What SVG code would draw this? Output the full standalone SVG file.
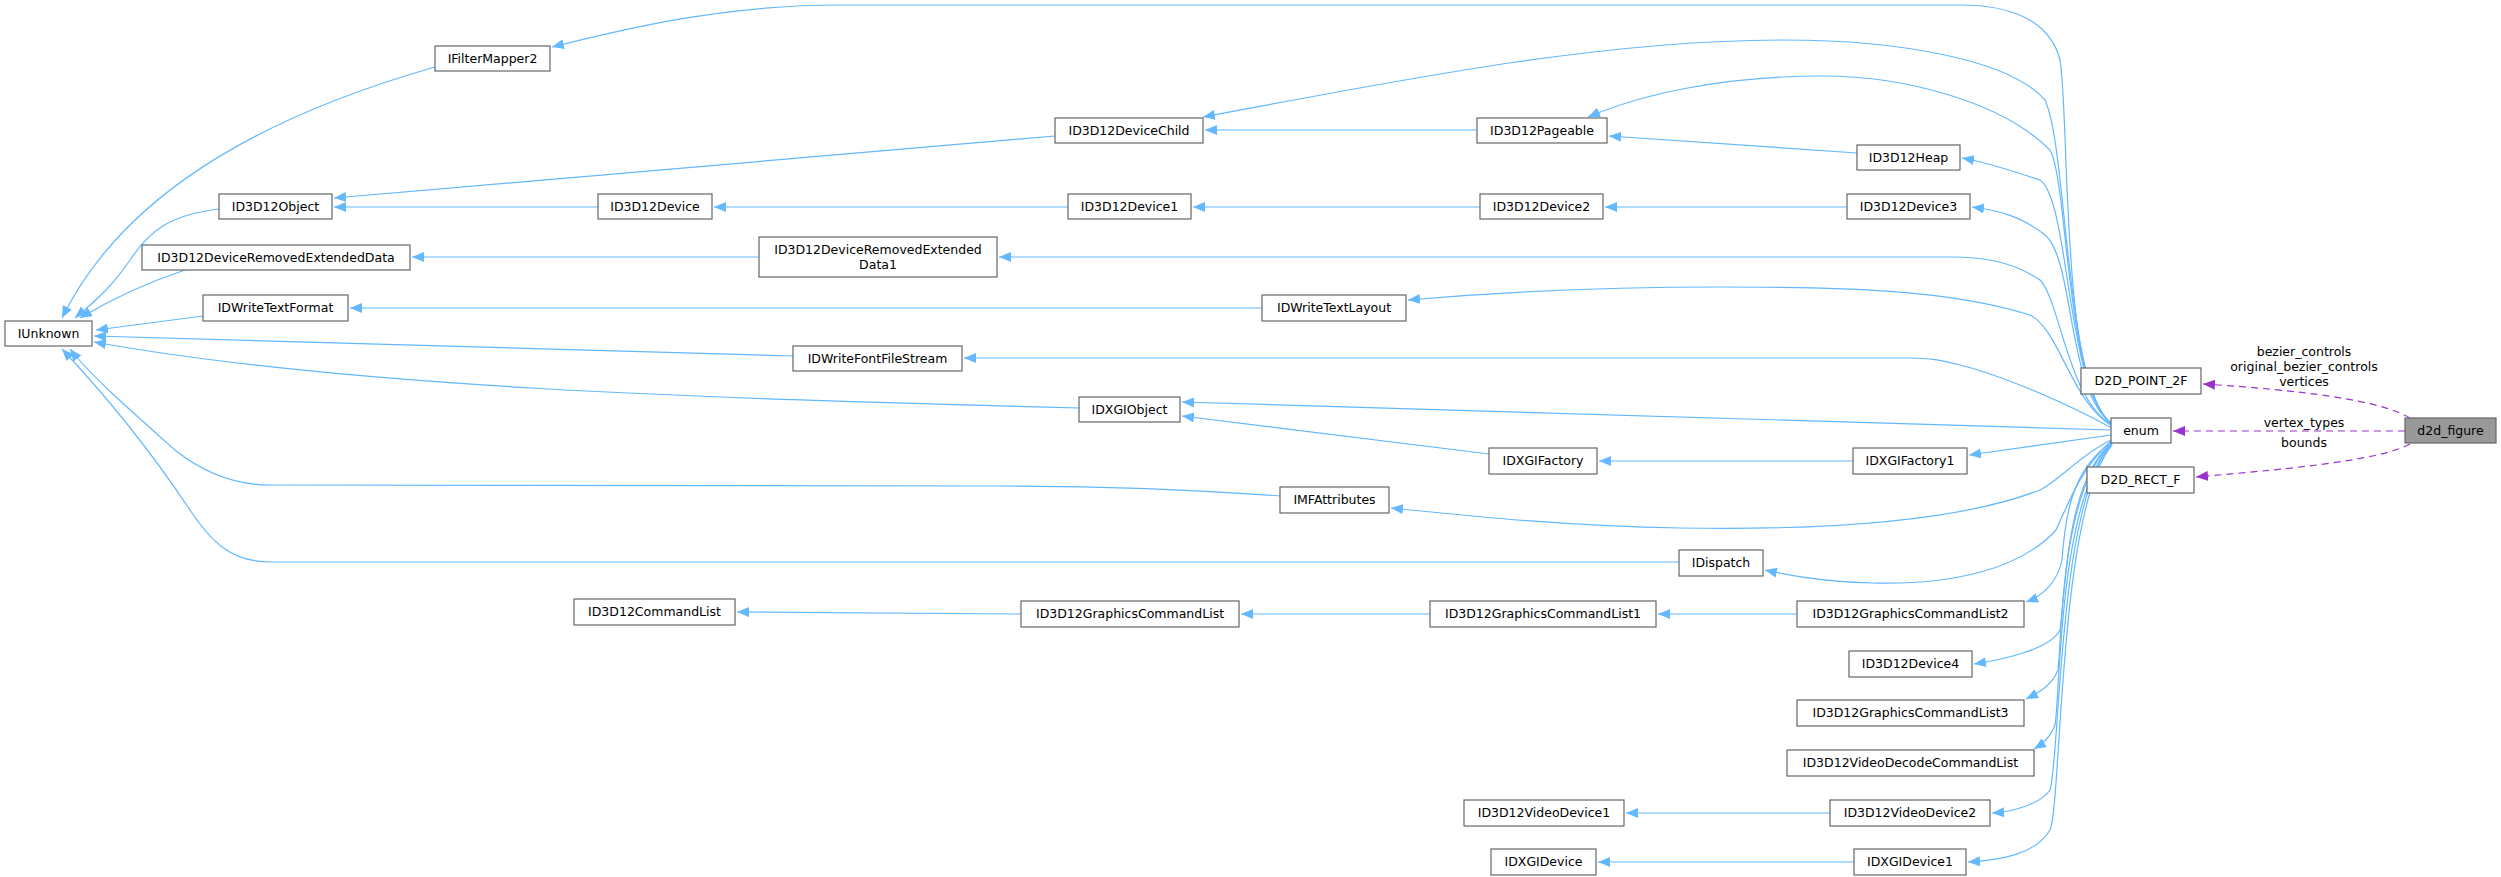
<svg xmlns="http://www.w3.org/2000/svg" width="2501" height="877" viewBox="0 0 2501 877">
<style>
.n rect{fill:#fff;stroke:#666;stroke-width:1.2}
.n text,.lbl{font-family:"DejaVu Sans",sans-serif;font-size:12.5px;fill:#000;text-anchor:middle}
.e{fill:none;stroke:#63b8ff;stroke-width:1.2;marker-end:url(#ab)}
.d{fill:none;stroke:#9a32cd;stroke-width:1.2;stroke-dasharray:7,5;marker-end:url(#ap)}
</style>
<defs>
<marker id="ab" markerWidth="12" markerHeight="10" refX="12" refY="5" orient="auto" markerUnits="userSpaceOnUse"><path d="M0,0 L12,5 L0,10 Z" fill="#63b8ff"/></marker>
<marker id="ap" markerWidth="12" markerHeight="10" refX="12" refY="5" orient="auto" markerUnits="userSpaceOnUse"><path d="M0,0 L12,5 L0,10 Z" fill="#9a32cd"/></marker>
</defs>
<rect width="2501" height="877" fill="#fff"/>
<g id="edges">
<path class="e" d="M435,67 C250,120 120,200 62,318"/>
<path class="e" d="M219,209 C170,215 150,230 130,260 C110,290 90,305 75,318"/>
<path class="e" d="M185,270 C140,285 110,300 80,318"/>
<path class="e" d="M203,316 L96,330"/>
<path class="e" d="M793,356 L94,336"/>
<path class="e" d="M1079,408 C700,398 350,388 94,342"/>
<path class="e" d="M1280,496 C1200,490 1100,486 1000,486 L270,485 C230,485 200,470 175,450 C130,410 90,375 70,349"/>
<path class="e" d="M1679,562 L270,562 C230,562 210,540 190,510 C150,450 110,400 62,349"/>
<path class="e" d="M1055,136 L334,198"/>
<path class="e" d="M598,207 L334,207"/>
<path class="e" d="M1477,130 L1205,130"/>
<path class="e" d="M1857,153 L1609,136"/>
<path class="e" d="M1068,207 L714,207"/>
<path class="e" d="M1480,207 L1193,207"/>
<path class="e" d="M1847,207 L1605,207"/>
<path class="e" d="M759,257 L412,257"/>
<path class="e" d="M1262,308 L350,308"/>
<path class="e" d="M1489,454 L1182,416"/>
<path class="e" d="M1853,461 L1599,461"/>
<path class="e" d="M1430,614 L1241,614"/>
<path class="e" d="M1021,614 L737,612"/>
<path class="e" d="M1797,614 L1658,614"/>
<path class="e" d="M1830,813 L1626,813"/>
<path class="e" d="M1854,862 L1598,862"/>
<path class="e" d="M2112,424 C2060,390 2070,120 2060,60 C2050,20 2010,5 1960,5 L840,5 C720,5 620,30 552,47"/>
<path class="e" d="M2112,424 C2065,390 2068,150 2045,100 C2010,60 1900,40 1784,40 C1600,40 1400,80 1203,117"/>
<path class="e" d="M2112,424 C2066,390 2068,180 2050,150 C2000,100 1900,76 1823,76 C1720,76 1640,95 1588,117"/>
<path class="e" d="M2112,424 C2066,390 2070,200 2040,180 C2010,170 1985,162 1962,158"/>
<path class="e" d="M2112,424 C2066,390 2075,260 2045,235 C2020,215 1995,210 1972,207"/>
<path class="e" d="M2112,425 C2068,400 2060,300 2040,280 C2010,260 1980,257 1950,257 L999,257"/>
<path class="e" d="M2112,426 C2070,400 2060,330 2030,315 C1950,290 1850,287 1720,287 C1600,287 1500,292 1408,300"/>
<path class="e" d="M2112,428 C2060,400 2000,375 1960,365 C1940,360 1930,358 1910,358 L964,358"/>
<path class="e" d="M2111,430 L1182,402"/>
<path class="e" d="M2111,435 L1969,455"/>
<path class="e" d="M2111,440 C2080,455 2060,480 2040,490 C1950,525 1800,530 1681,528 C1560,526 1460,515 1391,508"/>
<path class="e" d="M2111,441 C2080,470 2070,500 2056,530 C2020,570 1950,585 1873,583 C1830,582 1800,578 1765,570"/>
<path class="e" d="M2112,442 C2070,470 2065,520 2062,560 C2058,580 2045,595 2026,602"/>
<path class="e" d="M2112,443 C2065,480 2065,600 2060,630 C2050,650 2000,660 1974,664"/>
<path class="e" d="M2112,443 C2060,490 2062,640 2058,670 C2052,685 2040,692 2026,699"/>
<path class="e" d="M2112,444 C2058,500 2060,700 2055,725 C2050,738 2042,744 2034,749"/>
<path class="e" d="M2112,444 C2058,500 2060,760 2050,790 C2040,805 2010,812 1992,813"/>
<path class="e" d="M2112,445 C2058,510 2062,800 2050,830 C2035,855 2000,860 1968,862"/>
<path class="d" d="M2410,418 C2380,400 2300,390 2203,384"/>
<path class="d" d="M2405,431 L2173,431"/>
<path class="d" d="M2410,444 C2380,460 2300,468 2196,477"/>
<text class="lbl" x="2304" y="356">bezier_controls</text>
<text class="lbl" x="2304" y="371">original_bezier_controls</text>
<text class="lbl" x="2304" y="386">vertices</text>
<text class="lbl" x="2304" y="427">vertex_types</text>
<text class="lbl" x="2304" y="447">bounds</text>
</g>
<g id="IUnknown" class="n"><rect x="5" y="321" width="87" height="25"/><text x="48.5" y="338">IUnknown</text></g>
<g id="IFilterMapper2" class="n"><rect x="435" y="46" width="115" height="25"/><text x="492.5" y="63">IFilterMapper2</text></g>
<g id="ID3D12Object" class="n"><rect x="219" y="194" width="113" height="25"/><text x="275.5" y="211">ID3D12Object</text></g>
<g id="ID3D12Device" class="n"><rect x="598" y="194" width="114" height="25"/><text x="655" y="211">ID3D12Device</text></g>
<g id="ID3D12DeviceRemovedExtendedData" class="n"><rect x="142" y="245" width="268" height="25"/><text x="276" y="262">ID3D12DeviceRemovedExtendedData</text></g>
<g id="ID3D12DeviceRemovedExtendedData1" class="n"><rect x="759" y="237" width="238" height="40"/><text x="878" y="254">ID3D12DeviceRemovedExtended</text><text x="878" y="269">Data1</text></g>
<g id="IDWriteTextFormat" class="n"><rect x="203" y="295" width="145" height="26"/><text x="275.5" y="312">IDWriteTextFormat</text></g>
<g id="IDWriteFontFileStream" class="n"><rect x="793" y="346" width="169" height="25"/><text x="877.5" y="363">IDWriteFontFileStream</text></g>
<g id="ID3D12DeviceChild" class="n"><rect x="1055" y="118" width="148" height="25"/><text x="1129" y="135">ID3D12DeviceChild</text></g>
<g id="ID3D12Pageable" class="n"><rect x="1477" y="118" width="130" height="25"/><text x="1542" y="135">ID3D12Pageable</text></g>
<g id="ID3D12Heap" class="n"><rect x="1857" y="145" width="103" height="25"/><text x="1908.5" y="162">ID3D12Heap</text></g>
<g id="ID3D12Device1" class="n"><rect x="1068" y="194" width="123" height="25"/><text x="1129.5" y="211">ID3D12Device1</text></g>
<g id="ID3D12Device2" class="n"><rect x="1480" y="194" width="123" height="25"/><text x="1541.5" y="211">ID3D12Device2</text></g>
<g id="ID3D12Device3" class="n"><rect x="1847" y="194" width="123" height="25"/><text x="1908.5" y="211">ID3D12Device3</text></g>
<g id="IDWriteTextLayout" class="n"><rect x="1262" y="295" width="144" height="26"/><text x="1334" y="312">IDWriteTextLayout</text></g>
<g id="IDXGIObject" class="n"><rect x="1079" y="397" width="101" height="25"/><text x="1129.5" y="414">IDXGIObject</text></g>
<g id="IDXGIFactory" class="n"><rect x="1489" y="448" width="108" height="26"/><text x="1543" y="465">IDXGIFactory</text></g>
<g id="IDXGIFactory1" class="n"><rect x="1853" y="448" width="114" height="26"/><text x="1910" y="465">IDXGIFactory1</text></g>
<g id="IMFAttributes" class="n"><rect x="1280" y="487" width="109" height="26"/><text x="1334.5" y="504">IMFAttributes</text></g>
<g id="IDispatch" class="n"><rect x="1679" y="550" width="84" height="26"/><text x="1721" y="567">IDispatch</text></g>
<g id="ID3D12CommandList" class="n"><rect x="574" y="599" width="161" height="26"/><text x="654.5" y="616">ID3D12CommandList</text></g>
<g id="ID3D12GraphicsCommandList" class="n"><rect x="1021" y="601" width="218" height="26"/><text x="1130" y="618">ID3D12GraphicsCommandList</text></g>
<g id="ID3D12GraphicsCommandList1" class="n"><rect x="1430" y="601" width="226" height="26"/><text x="1543" y="618">ID3D12GraphicsCommandList1</text></g>
<g id="ID3D12GraphicsCommandList2" class="n"><rect x="1797" y="601" width="227" height="26"/><text x="1910.5" y="618">ID3D12GraphicsCommandList2</text></g>
<g id="ID3D12Device4" class="n"><rect x="1849" y="651" width="123" height="26"/><text x="1910.5" y="668">ID3D12Device4</text></g>
<g id="ID3D12GraphicsCommandList3" class="n"><rect x="1797" y="700" width="227" height="26"/><text x="1910.5" y="717">ID3D12GraphicsCommandList3</text></g>
<g id="ID3D12VideoDecodeCommandList" class="n"><rect x="1787" y="750" width="247" height="26"/><text x="1910.5" y="767">ID3D12VideoDecodeCommandList</text></g>
<g id="ID3D12VideoDevice1" class="n"><rect x="1464" y="800" width="160" height="26"/><text x="1544" y="817">ID3D12VideoDevice1</text></g>
<g id="ID3D12VideoDevice2" class="n"><rect x="1830" y="800" width="160" height="26"/><text x="1910" y="817">ID3D12VideoDevice2</text></g>
<g id="IDXGIDevice" class="n"><rect x="1491" y="849" width="105" height="26"/><text x="1543.5" y="866">IDXGIDevice</text></g>
<g id="IDXGIDevice1" class="n"><rect x="1854" y="849" width="112" height="26"/><text x="1910" y="866">IDXGIDevice1</text></g>
<g id="D2D_POINT_2F" class="n"><rect x="2081" y="368" width="120" height="26"/><text x="2141" y="385">D2D_POINT_2F</text></g>
<g id="enum" class="n"><rect x="2111" y="418" width="60" height="25"/><text x="2141" y="435">enum</text></g>
<g id="D2D_RECT_F" class="n"><rect x="2087" y="467" width="107" height="26"/><text x="2140.5" y="484">D2D_RECT_F</text></g>
<g id="d2d_figure" class="n"><rect x="2405" y="418" width="91" height="25" style="fill:#999"/><text x="2450.5" y="435">d2d_figure</text></g>
</svg>
